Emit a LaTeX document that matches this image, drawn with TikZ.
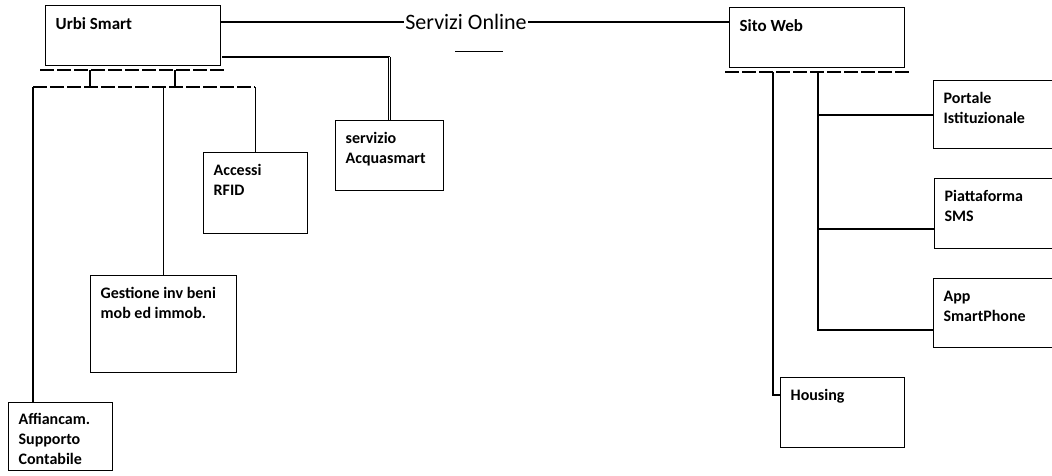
\documentclass[tikz,border=0pt]{standalone}
\usepackage{fontspec}
\setmainfont{Carlito}
\usetikzlibrary{calc}
\tikzset{
  box/.style={draw, line width=1.3pt, inner xsep=10pt, inner ysep=12pt, font=\fontsize{16}{20}\selectfont\bfseries},
  conn/.style={line width=1.2pt},
  bus/.style={line width=1.2pt, dash pattern=on 14pt off 3pt},
  thick2/.style={line width=1pt, double, double distance=1.6pt},
}
\newcommand\bx[7][]{\node[box,#1,anchor=north west] (#2) at (#3,#4) {\parbox[t][\dimexpr #6pt-#4pt-24pt\relax][t]{\dimexpr #5pt-#3pt-20pt\relax}{\setlength\baselineskip{20pt}#7}};}
\begin{document}
\begin{tikzpicture}[x=1pt,y=-1pt]
\useasboundingbox (0,0) rectangle (1052,476);
\clip (0,0) rectangle (1052,476);
% boxes
\bx[font=\fontsize{17}{20}\selectfont\bfseries]{urbi}{45}{5}{220}{65}{Urbi Smart}
\bx[font=\fontsize{17}{20}\selectfont\bfseries]{sito}{729}{7}{904}{67}{Sito Web}
\bx{acqua}{335}{120}{443}{190}{servizio\\Acquasmart}
\bx{rfid}{203}{152}{307}{233}{Accessi\\RFID}
\bx{gest}{90}{275}{236}{372}{Gestione inv beni\\mob ed immob.}
\bx[inner ysep=11pt]{aff}{8}{402}{112}{472}{Affiancam.\\Supporto\\Contabile}
\bx{portale}{933}{80}{1062}{148}{Portale\\Istituzionale}
\bx{sms}{934}{178}{1062}{248}{Piattaforma\\SMS}
\bx{app}{933}{278}{1062}{347}{App\\SmartPhone}
\bx{housing}{780}{377}{904}{447}{Housing}
% title
\node[font=\fontsize{22}{24}\selectfont, inner sep=1pt] (serv) at (466,22) {Servizi Online};
\draw[line width=0.8pt] (455,51) -- (503,51);
% top connectors
\draw[conn] (urbi.east |- serv.west) -- (serv.west);
\draw[conn] (serv.east) -- (sito.west |- serv.east);
% acquasmart
\coordinate (ac1) at (222,57);
\coordinate (ac2) at (acqua.north |- ac1);
\draw[conn] (ac1) -- (ac2);
\draw[thick2] (ac2) -- (acqua.north);
% urbi tree
\coordinate (ub1L) at (40,70);
\coordinate (ub1R) at (225,70);
\coordinate (ub2L) at (33,87);
\coordinate (ub2R) at (255,87);
\draw[bus] (ub1L) -- (ub1R);
\draw[bus] (ub2L) -- (ub2R);
\draw[conn] (90,70) -- (90,87);
\draw[conn] (175,70) -- (175,87);
\draw[conn] (ub2L) -- (ub2L |- aff.north);
\draw[conn] (gest.north |- ub2L) -- (gest.north);
\draw[conn] (rfid.north |- ub2L) -- (rfid.north);
% sito tree
\coordinate (sbL) at (725,72);
\coordinate (sbR) at (912,72);
\draw[bus] (sbL) -- (sbR);
\coordinate (s1) at (773,72);
\coordinate (s2) at (818,72);
\draw[conn] (s1) |- ($(housing.north west)+(0,18)$);
\draw[conn] (s2) -- (818,330) -- ($(app.north west)+(0,52)$);
\draw[line width=2.2pt] (s2 |- portale.west) -- (portale.west);
\draw[conn] (s2 |- 0,229) -- ($(sms.north west)+(0,51)$);
\end{tikzpicture}
\end{document}
